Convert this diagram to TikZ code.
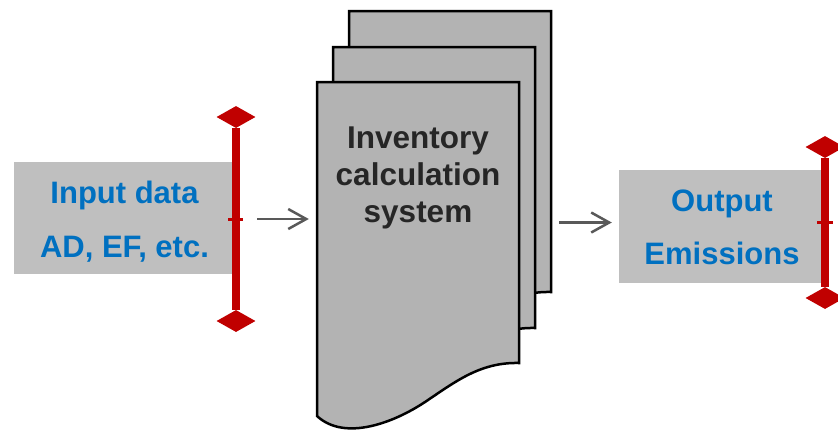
\documentclass[tikz,border=0pt]{standalone}
\usepackage{fontspec}
\setmainfont{Liberation Sans}
\usetikzlibrary{arrows.meta,shapes.geometric}
\definecolor{rbar}{HTML}{C00000}
\definecolor{boxgray}{HTML}{BFBFBF}
\definecolor{docgray}{HTML}{B3B3B3}
\definecolor{arrgray}{HTML}{595959}
\definecolor{txtblue}{HTML}{0070C0}
\definecolor{txtdark}{HTML}{262626}
\begin{document}
\begin{tikzpicture}[x=1pt,y=-1pt,
  graybox/.style={fill=boxgray, draw=none, inner sep=0pt},
  bluetext/.style={text=txtblue, font=\bfseries\fontsize{31}{54}\selectfont, align=center, inner sep=0pt, anchor=north},
  darktext/.style={text=txtdark, font=\bfseries\fontsize{31.5}{37}\selectfont, align=center, inner sep=0pt, anchor=north},
  docsheet/.style={fill=docgray, draw=black, line width=2.5pt, line join=miter},
  barline/.style={draw=rbar, line width=7.7pt},
  bartick/.style={draw=rbar, line width=3pt},
  barend/.style={shape=diamond, fill=rbar, draw=none, inner sep=0pt, minimum width=39pt, minimum height=22pt},
  conn/.style={draw=arrgray, line width=2.5pt, -{Straight Barb[length=18pt,width=20pt]}},
  area/.style={inner sep=0pt, minimum width=202pt, minimum height=281pt}
]
\useasboundingbox (0,0) rectangle (838,432);

% input box
\node[graybox, minimum width=218pt, minimum height=112pt] (inbox) at (123,218) {};
\node[bluetext] (intext) at (124.5,180.4) {Input data\\AD, EF, etc.};

% output box
\node[graybox, minimum width=203pt, minimum height=113pt] (outbox) at (720.5,226.5) {};
\node[bluetext, font=\bfseries\fontsize{31}{53}\selectfont] (outtext) at (722,190) {Output\\Emissions};

% document stack
\path[docsheet] (349,11) -- (551,11) -- (551,292)
  .. controls (512,291) and (487,311) .. (457,331)
  .. controls (427,351) and (377,371) .. (349,345) -- cycle;
\path[docsheet] (333,47) -- (535,47) -- (535,328)
  .. controls (496,327) and (471,347) .. (441,367)
  .. controls (411,387) and (361,407) .. (333,381) -- cycle;
\path[docsheet] (317,82) -- (519,82) -- (519,363)
  .. controls (480,362) and (455,382) .. (425,402)
  .. controls (395,422) and (345,442) .. (317,416) -- cycle;
\node[area] (back) at (450,151.5) {};
\node[area] (sys) at (418,222.5) {};
\node[darktext] (systext) at (418,126.5) {Inventory\\calculation\\system};

% left red bar
\node[barend] (ltop) at (236,117) {};
\node[barend] (lbot) at (236,321) {};
\draw[barline] (ltop) -- (lbot);
\coordinate (lmid) at (236,219);
\draw[bartick] ([xshift=-8pt]lmid) -- ([xshift=7pt]lmid);

% right red bar
\node[barend] (rtop) at (825,147) {};
\node[barend] (rbot) at (825,298) {};
\draw[barline] (rtop) -- (rbot);
\coordinate (rmid) at (825,222.5);
\draw[bartick] ([xshift=-8pt]rmid) -- ([xshift=8pt]rmid);

% connectors
\draw[conn, shorten <=21pt, shorten >=8pt] (lmid) -- (lmid -| sys.west);
\draw[conn, shorten <=8pt, shorten >=7pt] (rmid -| back.east) -- (rmid -| outbox.west);
\end{tikzpicture}
\end{document}
